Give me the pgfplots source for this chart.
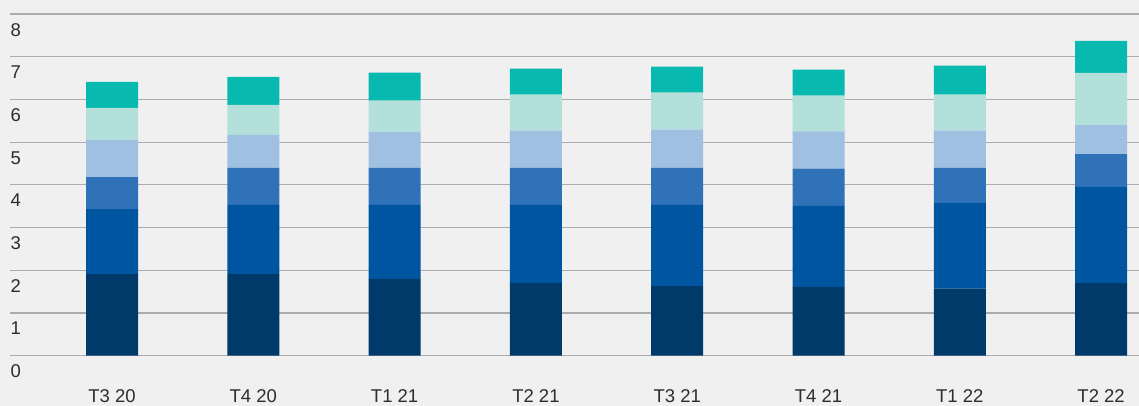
\documentclass[border=0pt]{standalone}
\usepackage{fontspec}
\setmainfont{Liberation Sans}
\usepackage{pgfplots}
\pgfplotsset{compat=1.18}
\definecolor{bgc}{RGB}{240,240,240}
\definecolor{gridc}{RGB}{172,172,176}
\definecolor{txt}{RGB}{45,45,45}
\definecolor{c1}{RGB}{0,58,106}
\definecolor{c2}{RGB}{0,85,160}
\definecolor{c3}{RGB}{48,114,184}
\definecolor{c4}{RGB}{160,192,226}
\definecolor{c5}{RGB}{180,224,220}
\definecolor{c6}{RGB}{8,185,176}
\begin{document}
\begin{tikzpicture}
\useasboundingbox (-10bp,-50.3bp) rectangle (1129bp,355.7bp);
\fill[bgc] (-10bp,-50.3bp) rectangle (1129bp,355.7bp);
\begin{axis}[
  at={(0,0)}, anchor=south west,
  scale only axis, width=1129bp, height=341.7bp,
  xmin=-0.722, xmax=7.268, ymin=0, ymax=8,
  ybar stacked, bar width=52bp,
  axis line style={draw=none},
  major tick length=0pt,
  ymajorgrids, grid style={draw=gridc, line width=1.1bp},
  ytick={0,1,...,8},
  xtick={0,...,7},
  xticklabels={T3 20,T4 20,T1 21,T2 21,T3 21,T4 21,T1 22,T2 22},
  font=\fontsize{18.5bp}{20bp}\selectfont,
  tick label style={text=txt},
  /pgf/number format/assume math mode=true,
  yticklabel style={anchor=north west, inner sep=0pt, xshift=0.5bp, yshift=-9bp},
  xticklabel style={anchor=base, inner sep=0pt, yshift=-46.3bp},
]
\addplot[fill=c1, draw=none] coordinates {(0,1.91) (1,1.91) (2,1.80) (3,1.70) (4,1.63) (5,1.61) (6,1.57) (7,1.70)};
\addplot[fill=c2, draw=none] coordinates {(0,1.52) (1,1.62) (2,1.73) (3,1.83) (4,1.90) (5,1.90) (6,2.01) (7,2.25)};
\addplot[fill=c3, draw=none] coordinates {(0,0.75) (1,0.87) (2,0.87) (3,0.87) (4,0.87) (5,0.87) (6,0.82) (7,0.77)};
\addplot[fill=c4, draw=none] coordinates {(0,0.87) (1,0.77) (2,0.84) (3,0.87) (4,0.89) (5,0.87) (6,0.87) (7,0.68)};
\addplot[fill=c5, draw=none] coordinates {(0,0.75) (1,0.70) (2,0.73) (3,0.84) (4,0.87) (5,0.84) (6,0.84) (7,1.22)};
\addplot[fill=c6, draw=none] coordinates {(0,0.61) (1,0.66) (2,0.66) (3,0.61) (4,0.61) (5,0.61) (6,0.68) (7,0.75)};
\end{axis}
\end{tikzpicture}
\end{document}
